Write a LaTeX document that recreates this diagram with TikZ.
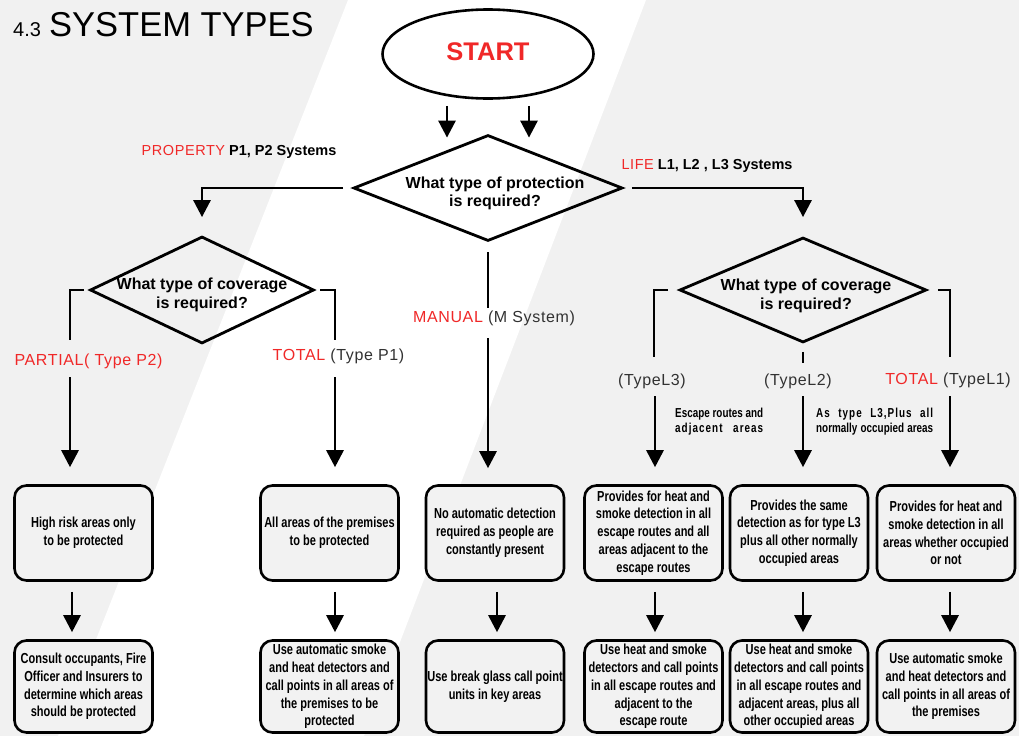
\documentclass[tikz,border=0pt]{standalone}
\usepackage{fontspec}
\setmainfont{Liberation Sans}
\newfontfamily\narrowfont{Liberation Sans}[FakeStretch=0.76]
\newfontfamily\narrowspaced{Liberation Sans}[FakeStretch=0.76,LetterSpace=8]
\newfontfamily\spacedfont{Liberation Sans}[LetterSpace=4]
\usetikzlibrary{shapes.geometric,arrows.meta}
\definecolor{fred}{RGB}{240,40,40}
\definecolor{tgray}{RGB}{50,50,50}
\definecolor{bggray}{RGB}{241,241,241}
\definecolor{boxfill}{RGB}{242,242,242}
\tikzset{
  ln/.style={line width=2.8pt,draw=black},
  arr/.style={ln,-{Triangle[length=17pt,width=17pt]}},
  dia/.style={diamond,draw,line width=2.8pt,inner sep=0pt},
  qtext/.style={font=\fontsize{16}{18.5}\selectfont\bfseries,align=center,inner sep=0pt},
  stepbox/.style={draw,line width=2.6pt,fill=boxfill,rounded corners=12pt,
    minimum width=138pt,align=center,inner sep=1pt,
    font={\narrowfont\bfseries\fontsize{14.5}{17.8}\selectfont}},
  lbl/.style={font=\spacedfont\fontsize{16}{19}\selectfont,inner sep=0pt},
  syslbl/.style={font=\fontsize{14.5}{17}\selectfont,inner sep=0pt},
  ann/.style={font={\narrowfont\bfseries\fontsize{13}{15}\selectfont},align=left,inner sep=0pt,anchor=west}
}
\begin{document}
\begin{tikzpicture}[x=1pt,y=-1pt]
% background
\fill[bggray] (0,0) rectangle (1019,736);
\fill[white] (348,0) -- (646,0) -- (364,736) -- (58,736) -- cycle;
\useasboundingbox (0,0) rectangle (1019,736);

% title
\node[anchor=base west,inner sep=0pt,font=\fontsize{20}{24}\selectfont] (num) at (13,36) {4.3};
\node[anchor=base west,inner sep=0pt,font=\fontsize{34.5}{40}\selectfont] (title) at (49,36) {SYSTEM TYPES};

% start
\node[ellipse,draw,line width=2.6pt,minimum width=211pt,minimum height=89pt,
      label={[font=\fontsize{25.5}{30}\selectfont\bfseries,text=fred,inner sep=0pt,yshift=2.5pt]center:START}] (start) at (488,54) {};

% decisions
\node[dia,minimum width=269pt,minimum height=106pt,
      label={[qtext,xshift=7pt,yshift=-5.5pt]center:What type of protection\\is required?}] (dmain) at (488,188) {};
\node[dia,minimum width=224pt,minimum height=107pt,
      label={[qtext,yshift=-5pt]center:What type of coverage\\is required?}] (d2) at (202,290) {};
\node[dia,minimum width=247pt,minimum height=105pt,
      label={[qtext,xshift=3pt,yshift=-6pt]center:What type of coverage\\is required?}] (d3) at (803,290) {};

% start arrows
\draw[arr,shorten <=6pt,shorten >=-4pt] ([xshift=-41pt]start.south) -- ([xshift=-41pt]dmain.north);
\draw[arr,shorten <=6pt,shorten >=-4pt] ([xshift=41pt]start.south) -- ([xshift=41pt]dmain.north);

% branch to d2 and d3
\draw[arr,shorten <=9pt,shorten >=18pt] (dmain.west) -| (d2.north);
\draw[arr,shorten <=8pt,shorten >=19pt] (dmain.east) -| (d3.north);

% system labels
\node[syslbl] (lprop) at (239,152) {{\color{fred}\spacedfont PROPERTY} \textbf{P1, P2 Systems}};
\node[syslbl] (llife) at (707,166) {{\color{fred}\spacedfont LIFE} \textbf{L1, L2 , L3 Systems}};

% boxes row 1
\node[stepbox,minimum height=95pt] (b1) at (83.5,533) {High risk areas only\\to be protected};
\node[stepbox,minimum height=95pt] (b2) at (329.5,533) {All areas of the premises\\to be protected};
\node[stepbox,minimum height=95pt] (b3) at (495,533) {No automatic detection\\required as people are\\constantly present};
\node[stepbox,minimum height=95pt] (b4) at (653.5,533) {Provides for heat and\\smoke detection in all\\escape routes and all\\areas adjacent to the\\escape routes};
\node[stepbox,minimum height=95pt] (b5) at (799,533) {Provides the same\\detection as for type L3\\plus all other normally\\occupied areas};
\node[stepbox,minimum height=95pt] (b6) at (946,533) {Provides for heat and\\smoke detection in all\\areas whether occupied\\or not};

% boxes row 2
\node[stepbox,minimum height=92pt] (c1) at (83.5,686.5) {Consult occupants, Fire\\Officer and Insurers to\\determine which areas\\should be protected};
\node[stepbox,minimum height=92pt] (c2) at (329.5,686.5) {Use automatic smoke\\and heat detectors and\\call points in all areas of\\the premises to be\\protected};
\node[stepbox,minimum height=92pt] (c3) at (495,686.5) {Use break glass call point\\units in key areas};
\node[stepbox,minimum height=92pt] (c4) at (653.5,686.5) {Use heat and smoke\\detectors and call points\\in all escape routes and\\adjacent to the\\escape route};
\node[stepbox,minimum height=92pt] (c5) at (799,686.5) {Use heat and smoke\\detectors and call points\\in all escape routes and\\adjacent areas, plus all\\other occupied areas};
\node[stepbox,minimum height=92pt] (c6) at (946,686.5) {Use automatic smoke\\and heat detectors and\\call points in all areas of\\the premises};

% property branch
\coordinate (pL) at (70,340);
\coordinate (pR) at (335,340);
\draw[ln,shorten <=5pt] (d2.west) -| (pL);
\draw[ln,shorten <=5pt] (d2.east) -| (pR);
\node[lbl] (lp2) at (88.5,361) {\color{fred}PARTIAL( Type P2)};
\node[lbl] (lp1) at (338.5,356) {{\color{fred}TOTAL} {\color{tgray}(Type P1)}};
\coordinate (aL) at (70,377);
\coordinate (aR) at (335,377);
\draw[arr,shorten >=17pt] (aL) -- (aL |- b1.north);
\draw[arr,shorten >=17pt] (aR) -- (aR |- b2.north);

% manual branch
\coordinate (pM) at (488,308);
\draw[ln,shorten <=10pt] (dmain.south) -- (pM);
\node[lbl] (lm) at (494,318) {{\color{fred}MANUAL} {\color{tgray}(M System)}};
\coordinate (aM) at (488,338);
\draw[arr,shorten >=16pt] (aM) -- (aM |- b3.north);

% life branch
\coordinate (qL) at (654,357);
\coordinate (qM) at (803,363);
\coordinate (qR) at (950,357);
\draw[ln,shorten <=10pt] (d3.west) -| (qL);
\draw[ln,shorten <=8pt] (d3.south) -- (qM);
\draw[ln,shorten <=10pt] (d3.east) -| (qR);
\node[lbl] (l3) at (652,381) {\color{tgray}(TypeL3)};
\node[lbl] (l2) at (798,381) {\color{tgray}(TypeL2)};
\node[lbl] (l1) at (948,380) {{\color{fred}TOTAL} {\color{tgray}(TypeL1)}};
\coordinate (rL) at (655,396);
\coordinate (rM) at (803,396);
\coordinate (rR) at (950,396);
\draw[arr,shorten >=17pt] (rL) -- (rL |- b4.north);
\draw[arr,shorten >=17pt] (rM) -- (rM |- b5.north);
\draw[arr,shorten >=17pt] (rR) -- (rR |- b6.north);
\node[ann] (n3) at (675,421.5) {\makebox[88pt][s]{Escape routes and}\\\makebox[88pt][s]{\narrowspaced adjacent areas}};
\node[ann] (n2) at (816,422) {\makebox[117pt][s]{\narrowspaced As type L3,Plus all}\\\makebox[117pt][s]{normally occupied areas}};

% row arrows
\draw[arr,shorten <=10pt,shorten >=7pt] ([xshift=-11.5pt]b1.south) -- ([xshift=-11.5pt]c1.north);
\draw[arr,shorten <=10pt,shorten >=7pt] ([xshift=5.5pt]b2.south) -- ([xshift=5.5pt]c2.north);
\draw[arr,shorten <=10pt,shorten >=7pt] ([xshift=2pt]b3.south) -- ([xshift=2pt]c3.north);
\draw[arr,shorten <=10pt,shorten >=7pt] ([xshift=1.5pt]b4.south) -- ([xshift=1.5pt]c4.north);
\draw[arr,shorten <=10pt,shorten >=7pt] ([xshift=4pt]b5.south) -- ([xshift=4pt]c5.north);
\draw[arr,shorten <=10pt,shorten >=7pt] ([xshift=4pt]b6.south) -- ([xshift=4pt]c6.north);
\end{tikzpicture}
\end{document}
